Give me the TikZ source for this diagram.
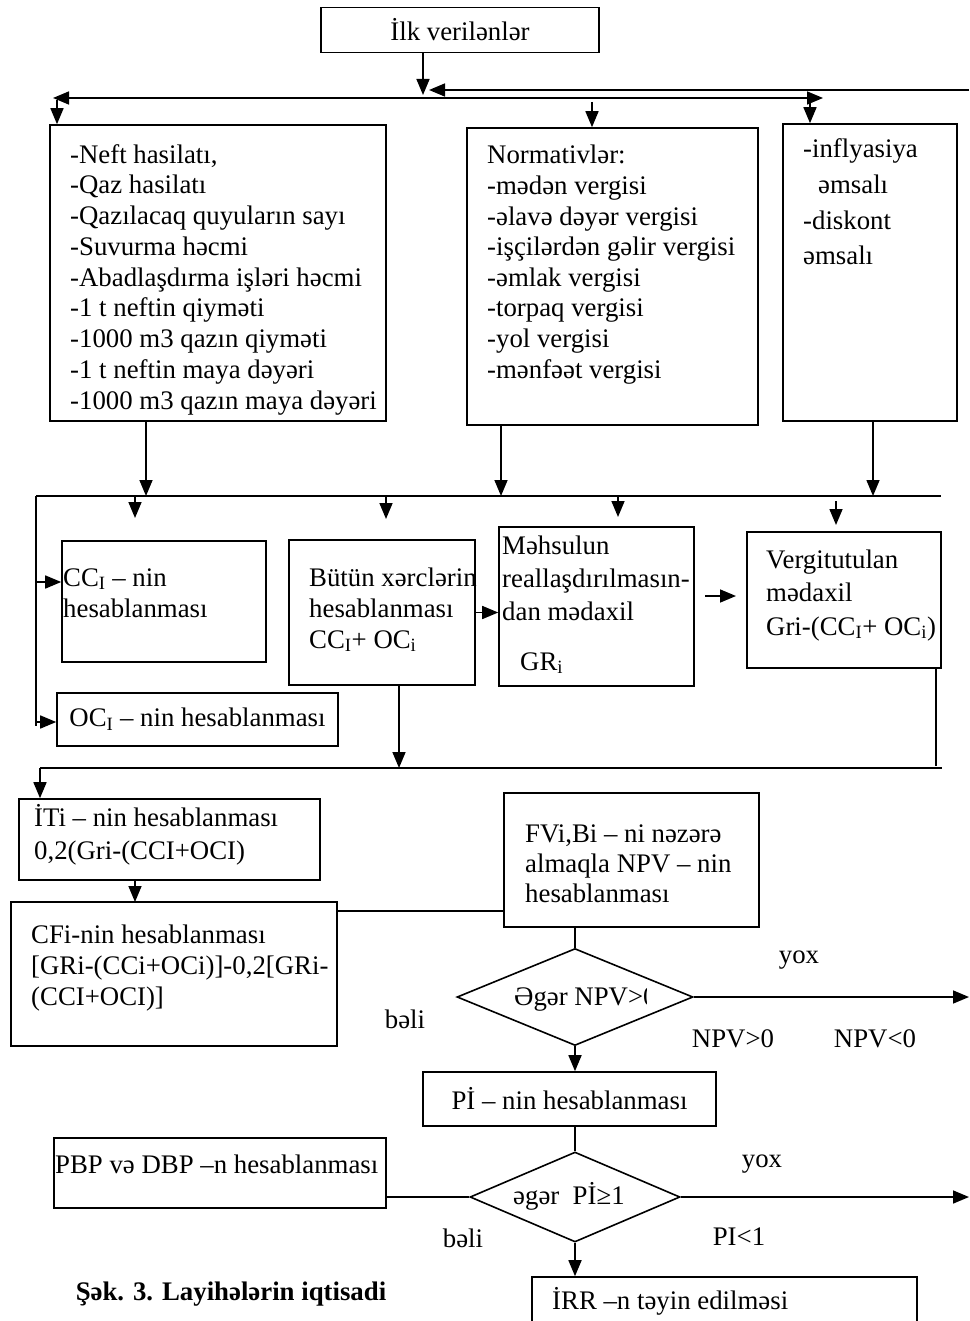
\documentclass[tikz,border=0pt]{standalone}
\usepackage{fontspec}
\setmainfont{Liberation Serif}
\usetikzlibrary{arrows.meta,shapes.geometric}

\tikzset{
  box/.style={draw,line width=1.6pt,inner sep=0pt,font=\fontsize{26.8}{31}\selectfont},
  txt/.style={inner sep=0pt,anchor=base west,align=left,font=\fontsize{26.8}{31}\selectfont},
  lbl/.style={inner sep=0pt,anchor=base,font=\fontsize{26.8}{31}\selectfont},
  cond/.style={draw,diamond,line width=1.6pt,inner sep=0pt},
  lin/.style={line width=1.6pt},
  arr/.style={line width=1.6pt,-{Triangle[length=16pt,width=13pt]}},
  arrb/.style={line width=1.6pt,{Triangle[length=16pt,width=13pt]}-{Triangle[length=16pt,width=13pt]}}
}

\begin{document}
\begin{tikzpicture}[x=1pt,y=-1pt]
        \useasboundingbox (0,0) rectangle (969,1321);
        \clip (0,0) rectangle (969,1321);

        % input data
        \node[box,minimum width=278,minimum height=45] (ilk) at (460,30) {İlk verilənlər};

        \coordinate (split) at (423,95);
        \coordinate (backR) at (969,90);
        \coordinate (back) at (429,90);
        \coordinate (busL) at (53,98);
        \coordinate (busR) at (823,98);
        \coordinate (dropA) at (57,100);
        \coordinate (dropB) at (592,102);
        \coordinate (dropC) at (810,100);

        \node[box,minimum width=336,minimum height=296] (neft) at (218,273) {};
        \node[box,minimum width=291,minimum height=297] (norm) at (612.5,276.5) {};
        \node[box,minimum width=174,minimum height=297] (infl) at (870,272.5) {};

        % multi-line texts sit on the baseline of their last line
        \node[txt,font=\fontsize{26.8}{30.75}\selectfont] (neftT) at (70,409) {-Neft hasilatı,\\-Qaz hasilatı\\-Qazılacaq quyuların sayı\\-Suvurma həcmi\\-Abadlaşdırma işləri həcmi\\-1 t neftin qiyməti\\-1000 m3 qazın qiyməti\\-1 t neftin maya dəyəri\\-1000 m3 qazın maya dəyəri};
        \node[txt,font=\fontsize{26.8}{30.6}\selectfont] (normT) at (487,378) {Normativlər:\\-mədən vergisi\\-əlavə dəyər vergisi\\-işçilərdən gəlir vergisi\\-əmlak vergisi\\-torpaq vergisi\\-yol vergisi\\-mənfəət vergisi};
        \node[txt,font=\fontsize{26.8}{35.7}\selectfont] (inflT) at (803,265) {-inflyasiya\\\hspace*{15pt}əmsalı\\-diskont\\əmsalı};

        \draw[arr] (ilk.south -| split) -- (split);
        \draw[arr] (backR) -- (back);
        \draw[arrb] (busL) -- (busR);
        \draw[arr] (dropA) -- (dropA |- neft.north);
        \draw[arr] (dropB) -- (dropB |- norm.north);
        \draw[arr] (dropC) -- (dropC |- infl.north);

        % costs and income
        \coordinate (c1) at (146,496);
        \coordinate (c2) at (501,496);
        \coordinate (c3) at (873,496);
        \coordinate (cL) at (36,496);
        \coordinate (cR) at (941,496);
        \coordinate (cEnd) at (36,726);

        \draw[arr] (neft.south -| c1) -- (c1);
        \draw[arr] (norm.south -| c2) -- (c2);
        \draw[arr] (infl.south -| c3) -- (c3);
        \draw[lin] (cL) -- (cR);
        \draw[lin] (cL) -- (cEnd);

        \coordinate (s1) at (135,496);
        \coordinate (s1e) at (135,518);
        \coordinate (s2) at (386,496);
        \coordinate (s2e) at (386,519);
        \coordinate (s3) at (618,496);
        \coordinate (s3e) at (618,517);
        \coordinate (s4) at (836,501);
        \coordinate (s4e) at (836,525);
        \draw[arr] (s1) -- (s1e);
        \draw[arr] (s2) -- (s2e);
        \draw[arr] (s3) -- (s3e);
        \draw[arr] (s4) -- (s4e);

        \node[box,minimum width=204,minimum height=121] (cc) at (164,601.5) {};
        \node[box,minimum width=186,minimum height=145] (but) at (382,612.5) {};
        \node[box,minimum width=195,minimum height=159] (mehs) at (596.5,606.5) {};
        \node[box,minimum width=194,minimum height=136] (verg) at (844,600) {};
        \node[box,minimum width=281,minimum height=53] (oc) at (197.5,719.5) {OC\textsubscript{I} – nin hesablanması};

        \node[txt] (ccT) at (63,617) {CC\textsubscript{I} – nin\\hesablanması};
        \node[txt] (butT) at (309,648) {Bütün xərclərin\\hesablanması\\CC\textsubscript{I}+ OC\textsubscript{i}};
        \node[txt,font=\fontsize{26.8}{33}\selectfont] (mehsT) at (502,670) {Məhsulun\\reallaşdırılmasın-\\dan mədaxil\\[17pt]\hspace*{18pt}GR\textsubscript{i}};
        \node[txt,font=\fontsize{26.8}{33.5}\selectfont] (vergT) at (766,635) {Vergitutulan\\mədaxil\\Gri-(CC\textsubscript{I}+ OC\textsubscript{i})};

        \coordinate (cc1) at (36,582);
        \coordinate (oc1) at (36,722);
        \coordinate (m1) at (705,596);
        \coordinate (m2) at (736,596);
        \draw[arr] (cc1) -- (cc1 -| cc.west);
        \draw[arr] (oc1) -- (oc1 -| oc.west);
        \draw[arr] (but.east) -- (but.east -| mehs.west);
        \draw[arr] (m1) -- (m2);

        % tax and cash flow
        \coordinate (d1) at (399,768);
        \coordinate (v2) at (936,766);
        \coordinate (dL) at (40,768);
        \coordinate (dR) at (942,768);
        \draw[arr] (but.south -| d1) -- (d1);
        \draw[lin] (verg.south -| v2) -- (v2);
        \draw[lin] (dL) -- (dR);

        \node[box,minimum width=301,minimum height=81] (iti) at (169.5,839.5) {};
        \node[box,minimum width=326,minimum height=144] (cfi) at (174,974) {};
        \node[box,minimum width=255,minimum height=134] (fvi) at (631.5,860) {};

        \node[txt,font=\fontsize{26.8}{33}\selectfont] (itiT) at (34,859) {İTi – nin hesablanması\\0,2(Gri-(CCI+OCI)};
        \node[txt] (cfiT) at (31,1005) {CFi-nin hesablanması\\{[}GRi-(CCi+OCi)]-0,2[GRi-\\(CCI+OCI)]};
        \node[txt,font=\fontsize{26.8}{30}\selectfont] (fviT) at (525,902) {FVi,Bi – ni nəzərə\\almaqla NPV – nin\\hesablanması};

        \coordinate (e1) at (135,902);
        \coordinate (f1) at (0,911);
        \draw[arr] (dL) -- (dL |- iti.north);
        \draw[arr] (iti.south -| e1) -- (e1);
        \draw[lin] (cfi.east |- f1) -- (fvi.west |- f1);

        % decisions
        \node[cond,minimum width=236,minimum height=97] (npv) at (575,997) {};
        \begin{scope}
          \clip (500,970) rectangle (646,1020);
          \node[txt] (npvT) at (514,1005) {Əgər NPV>0};
        \end{scope}
        \coordinate (outA) at (969,997);
        \draw[lin] (fvi.south -| npv.north) -- (npv.north);
        \draw[arr] (npv.east) -- (outA);
        \node[lbl] (yoxA) at (799,963) {yox};
        \node[lbl] (beliA) at (405,1028) {bəli};
        \node[lbl] (npvP) at (733,1047) {NPV>0};
        \node[lbl] (npvN) at (875,1047) {NPV<0};

        \node[box,minimum width=293,minimum height=54] (pi) at (569.5,1099) {Pİ – nin hesablanması};
        \draw[arr] (npv.south) -- (npv.south |- pi.north);

        \node[cond,minimum width=210,minimum height=90] (pic) at (575,1197) {};
        \node[txt] (picT) at (513,1204) {əgər\ \ Pİ≥1};
        \draw[lin] (pi.south -| pic.north) -- (pic.north);

        \node[box,minimum width=332,minimum height=70] (pbp) at (220,1173) {};
        \node[txt] (pbpT) at (55,1173) {PBP və DBP –n hesablanması};
        \coordinate (outB) at (969,1197);
        \draw[lin] (pbp.east |- pic.west) -- (pic.west);
        \draw[arr] (pic.east) -- (outB);
        \node[lbl] (yoxB) at (762,1167) {yox};
        \node[lbl] (beliB) at (463,1247) {bəli};
        \node[lbl] (piN) at (739,1245) {PI<1};

        \node[box,minimum width=385,minimum height=63] (irr) at (724.5,1308.5) {};
        \node[txt] (irrT) at (552,1309) {İRR –n təyin edilməsi};
        \draw[arr] (pic.south) -- (pic.south |- irr.north);

        \node[lbl,font=\fontsize{26.8}{31}\selectfont\bfseries] (cap) at (231,1300) {Şək. 3. Layihələrin iqtisadi};
\end{tikzpicture}
\end{document}
